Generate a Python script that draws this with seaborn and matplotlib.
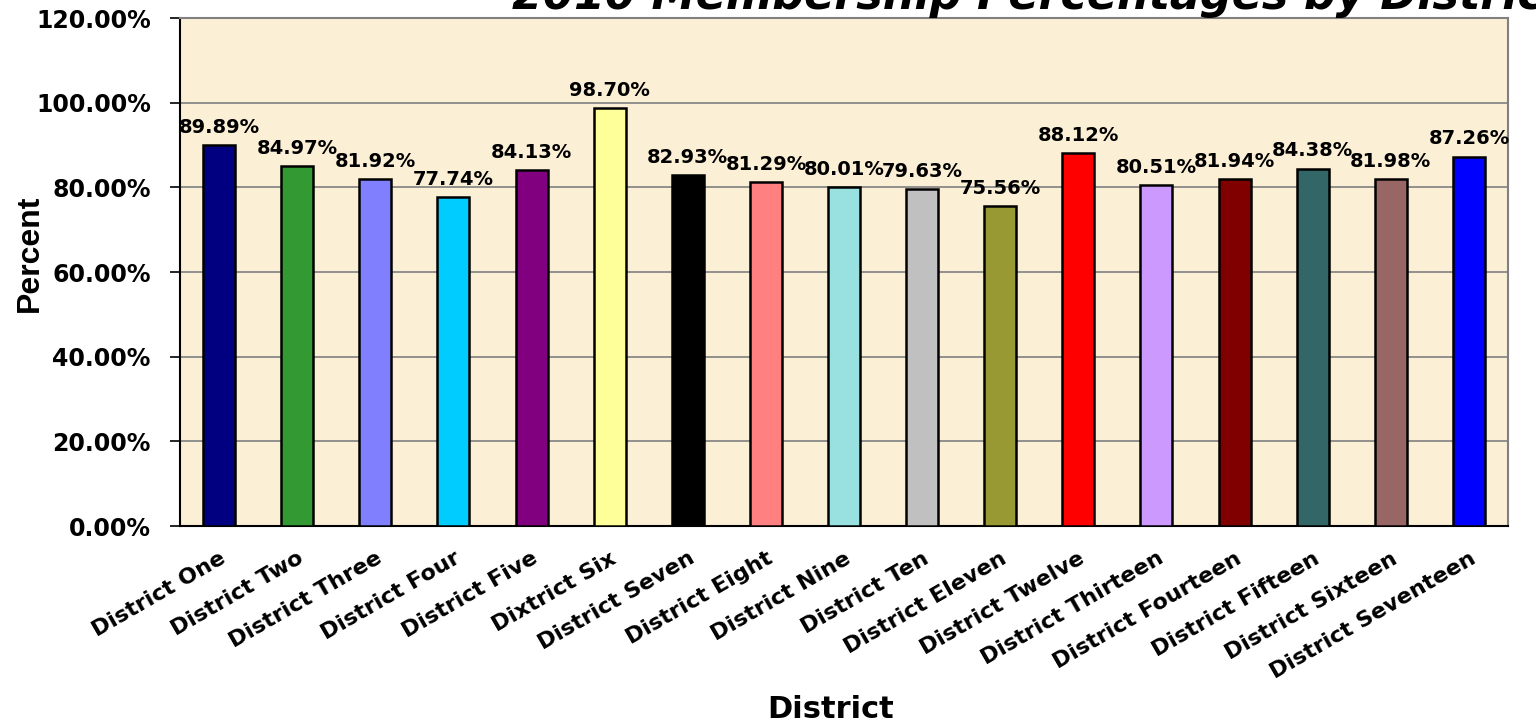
import matplotlib
matplotlib.use("Agg")
import matplotlib.pyplot as plt
import seaborn as sns
import pandas as pd
import numpy as np

# Data
districts = ["District One", "District Two", "District Three", "District Four",
             "District Five", "Dixtrict Six", "District Seven", "District Eight",
             "District Nine", "District Ten", "District Eleven", "District Twelve",
             "District Thirteen", "District Fourteen", "District Fifteen",
             "District Sixteen", "District Seventeen"]
percents = [89.89, 84.97, 81.92, 77.74, 84.13, 98.70, 82.93, 81.29, 80.01,
            79.63, 75.56, 88.12, 80.51, 81.94, 84.38, 81.98, 87.26]
bar_colors = ["#000080", "#339933", "#8080FF", "#00CCFF", "#800080", "#FFFF99",
              "#000000", "#FF8080", "#99E0E0", "#C0C0C0", "#999933", "#FF0000",
              "#CC99FF", "#800000", "#336666", "#996666", "#0000FF"]
y_ticks = [0, 20, 40, 60, 80, 100, 120]

df = pd.DataFrame({"District": districts, "Percent": percents})

sns.set_style("white")
plt.rcParams["font.family"] = ["DejaVu Sans"]
for k in ["text.color", "axes.labelcolor", "xtick.color", "ytick.color"]:
    plt.rcParams[k] = "black"

W, H, DPI = 1536, 725, 100
fig = plt.figure(figsize=(W / DPI, H / DPI), dpi=DPI)
ax = fig.add_axes([180 / W, 1 - 526 / H, (1508 - 180) / W, (526 - 18) / H])
ax.set_facecolor("#FBEFD6")

sns.barplot(data=df, x="District", y="Percent", hue="District", palette=bar_colors,
            saturation=1, legend=False, width=0.41, edgecolor="black", linewidth=1.8,
            ax=ax, zorder=3)

ax.set_ylim(0, 120)
ax.set_xlim(-0.5, len(districts) - 0.5)
ax.set_yticks(y_ticks)
ax.set_yticklabels([f"{t:.2f}%" for t in y_ticks], fontsize=17, fontweight="bold")
ax.yaxis.grid(True, color="#808080", linewidth=1.2, zorder=0)
ax.set_axisbelow(True)

# tick marks at category boundaries, labels centred under bars
ax.set_xticks(np.arange(len(districts)))
ax.set_xticklabels(districts, rotation=30, ha="right", va="top", rotation_mode="anchor",
                   fontsize=16, fontweight="bold")
ax.tick_params(axis="x", which="major", length=0, pad=16)
ax.set_xticks(np.arange(-0.5, len(districts), 1), minor=True)
ax.tick_params(axis="x", which="minor", length=7, width=1.2, color="black", direction="out")
ax.tick_params(axis="y", which="major", length=7, width=1.2, color="black",
               direction="out", left=True, pad=14)

for s in ["left", "bottom"]:
    ax.spines[s].set_color("black")
    ax.spines[s].set_linewidth(1.5)
for s in ["top", "right"]:
    ax.spines[s].set_color("#808080")
    ax.spines[s].set_linewidth(1.5)

for i, v in enumerate(percents):
    ax.annotate(f"{v:.2f}%", (i, v), xytext=(0, 6), textcoords="offset points",
                ha="center", va="bottom", fontsize=14, fontweight="bold", zorder=5)

ax.set_xlabel("District", fontsize=22, fontweight="bold")
ax.xaxis.set_label_coords((831 - 180) / (1508 - 180), -(710 - 526) / (526 - 18))
ax.xaxis.label.set_va("center")

# y label overlapping the tick labels, as in the original
ax.set_ylabel("Percent", fontsize=23, fontweight="bold",
              family=["Liberation Sans", "DejaVu Sans"])
ax.yaxis.set_label_coords(-(180 - 30) / (1508 - 180), (526 - 253) / (526 - 18))
ax.yaxis.label.set_va("center")

# title cut off at the top edge of the image
fig.text(512 / W, 1 - 9 / H, "2010 Membership Percentages by District",
         ha="left", va="baseline", fontsize=32, fontweight="bold", fontstyle="italic")

fig.savefig("out.png", dpi=DPI)
